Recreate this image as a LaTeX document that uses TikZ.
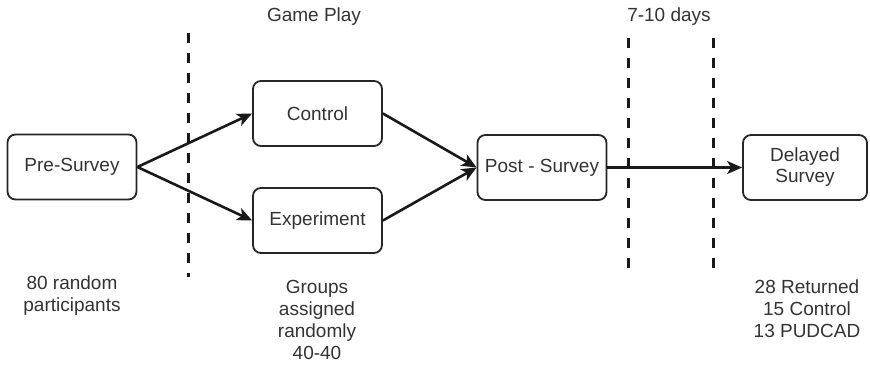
\documentclass[tikz,border=0pt]{standalone}
\usepackage{fontspec}
\setmainfont{Liberation Sans}
\usetikzlibrary{arrows.meta}
\begin{document}
\begin{tikzpicture}[x=1pt,y=-1pt,
  box/.style={draw=black!85, line width=1.8pt, rounded corners=8pt,
    minimum width=129pt, minimum height=65pt, inner sep=0pt, align=center,
    font=\fontsize{19}{21}\selectfont, text=black!80},
  lbl/.style={align=center, inner sep=0pt, font=\fontsize{19}{22}\selectfont, text=black!80},
  arr/.style={draw=black!90, line width=2.6pt, -{Stealth[length=15pt,width=13pt,inset=4pt]}},
  divider/.style={draw=black!90, line width=3pt, dash pattern=on 10pt off 10pt}]
\useasboundingbox (0,0) rectangle (870,365);
\fill[white] (0,0) rectangle (870,365);

% dividers
\coordinate (d1t) at (188,33);
\coordinate (d1b) at (188,277);
\coordinate (d2t) at (628,38);
\coordinate (d2b) at (628,277);
\coordinate (d3t) at (713,38);
\coordinate (d3b) at (713,277);
\draw[divider] (d1t) -- (d1b);
\draw[divider] (d2t) -- (d2b);
\draw[divider] (d3t) -- (d3b);

% boxes
\node[box] (pre) at (72,167) {Pre-Survey};
\node[box] (ctrl) at (317.5,113.5) {Control};
\node[box] (exp) at (317.5,220.5) {Experiment};
\node[box] (post) at (542,167.5) {Post - Survey};
\node[box, minimum width=124pt] (del) at (805,167.5) {Delayed\\Survey};

% arrows
\draw[arr] (pre.east) -- (ctrl.west);
\draw[arr] (pre.east) -- (exp.west);
\draw[arr] (ctrl.east) -- (post.west);
\draw[arr] (exp.east) -- (post.west);
\draw[arr] (post.east) -- (del.west);

% labels
\node[lbl] (gp) at (314,17) {Game Play};
\node[lbl] (days) at (669,17) {7-10 days};
\node[lbl] (l1) at (72,296) {80 random\\participants};
\node[lbl] (l2) at (317,320) {Groups\\assigned\\randomly\\40-40};
\node[lbl] (l3) at (807,309) {28 Returned\\15 Control\\13 PUDCAD};
\end{tikzpicture}
\end{document}
